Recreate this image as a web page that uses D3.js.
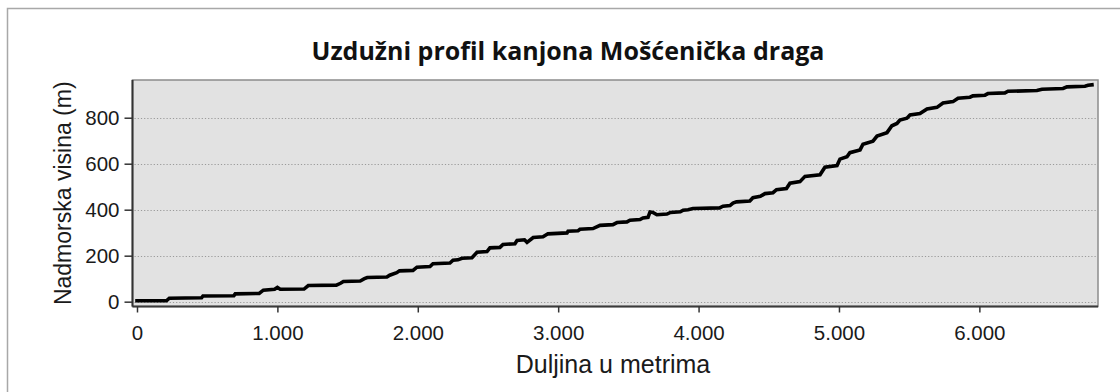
<!DOCTYPE html>
<html>
<head>
<meta charset="utf-8">
<script src="https://cdn.jsdelivr.net/npm/d3@7/dist/d3.min.js"></script>
<style>
  html, body { margin: 0; padding: 0; background: #ffffff; }
  svg { display: block; }
</style>
</head>
<body>
<svg id="chart" width="1120" height="392"></svg>
<script>
// Longitudinal profile of the Mošćenička draga canyon
const titleText = "Uzdužni profil kanjona Mošćenička draga";
const xTitle = "Duljina u metrima";
const yTitle = "Nadmorska visina (m)";

// distance along the canyon (m)
const distance = [
  0, 210, 230, 460, 470, 690, 700, 870, 900, 980, 1000, 1020, 1190, 1220, 1420,
  1450, 1470, 1590, 1620, 1640, 1780, 1800, 1850, 1870, 1966, 1994, 2087, 2108,
  2229, 2251, 2286, 2315, 2386, 2422, 2493, 2514, 2585, 2607, 2692, 2707, 2760,
  2778, 2822, 2892, 2927, 3063, 3070, 3141, 3155, 3248, 3298, 3390, 3419, 3490,
  3511, 3583, 3604, 3640, 3654, 3675, 3703, 3775, 3800, 3870, 3890, 3925, 3960,
  4150, 4174, 4224, 4245, 4270, 4365, 4387, 4440, 4473, 4530, 4555, 4626, 4651,
  4722, 4758, 4865, 4900, 4986, 5007, 5057, 5078, 5150, 5171, 5242, 5271, 5342,
  5377, 5413, 5434, 5484, 5506, 5577, 5627, 5698, 5741, 5812, 5848, 5933, 5954,
  6040, 6061, 6182, 6204, 6410, 6446, 6596, 6624, 6752, 6774, 6802
];

// elevation above sea level (m)
const elevation = [
  4, 4, 15, 17, 25, 26, 34, 36, 50, 54, 62, 54, 55, 70, 72,
  80, 88, 90, 100, 105, 107, 115, 126, 134, 136, 150, 153, 165,
  168, 180, 182, 189, 191, 215, 218, 234, 236, 249, 252, 266, 269,
  258, 279, 282, 295, 299, 306, 308, 315, 318, 332, 335, 344, 347,
  354, 357, 364, 367, 390, 388, 378, 381, 388, 391, 398, 400, 405,
  408, 415, 418, 429, 434, 438, 452, 458, 470, 474, 487, 492, 515,
  522, 545, 552, 585, 592, 620, 630, 648, 660, 685, 698, 720, 735,
  765, 775, 790, 798, 812, 818, 838, 845, 864, 870, 885, 889, 895,
  898, 905, 908, 915, 918, 924, 927, 934, 937, 941, 943
];

const xTicks = [0, 1000, 2000, 3000, 4000, 5000, 6000];
const yTicks = [0, 200, 400, 600, 800];

const svg = d3.select("#chart");
const W = 1120, H = 392;
const plot = { left: 132.5, right: 1098, top: 80, bottom: 306.5 };

// outer chart frame
svg.append("rect")
  .attr("x", 7.5).attr("y", 8.5)
  .attr("width", W + 20).attr("height", H + 20)
  .attr("fill", "#ffffff")
  .attr("stroke", "#a8a8a8").attr("stroke-width", 1.5);

const x = d3.scaleLinear().domain([-32, 6845]).range([plot.left, plot.right]);
const y = d3.scaleLinear().domain([-21, 964]).range([plot.bottom, plot.top]);

// plot background
svg.append("rect")
  .attr("x", plot.left).attr("y", plot.top)
  .attr("width", plot.right - plot.left).attr("height", plot.bottom - plot.top)
  .attr("fill", "#e2e2e2")
  .attr("stroke", "#8c8c8c").attr("stroke-width", 1.5);

// dotted horizontal gridlines
svg.append("g")
  .selectAll("line")
  .data(yTicks)
  .join("line")
  .attr("x1", plot.left + 2).attr("x2", plot.right - 2)
  .attr("y1", d => Math.round(y(d)) + 0.5).attr("y2", d => Math.round(y(d)) + 0.5)
  .attr("stroke", "#9a9a9a").attr("stroke-width", 1.2)
  .attr("stroke-dasharray", "1.2,2");

// profile line
const pts = distance.map((d, i) => [d, elevation[i]]);
svg.append("path")
  .datum(pts)
  .attr("d", d3.line().x(d => x(d[0])).y(d => y(d[1])))
  .attr("fill", "none")
  .attr("stroke", "#000000").attr("stroke-width", 3.6)
  .attr("stroke-linejoin", "miter").attr("stroke-linecap", "square");

const fontTick = "'Liberation Sans', Arial, sans-serif";

// x axis
const xAxis = svg.append("g")
  .attr("transform", `translate(0,${plot.bottom})`)
  .call(d3.axisBottom(x).tickValues(xTicks).tickSize(6).tickPadding(13)
    .tickFormat(d => d3.format(",")(d).replace(/,/g, ".")));
xAxis.select(".domain").attr("stroke", "#3a3a3a").attr("stroke-width", 2)
  .attr("d", `M${plot.left},0H${plot.right}`);
xAxis.selectAll(".tick line").attr("stroke", "#333").attr("stroke-width", 1.5);
xAxis.selectAll(".tick text")
  .attr("fill", "#1a1a1a").attr("font-family", fontTick).attr("font-size", 20.5);

// y axis
const yAxis = svg.append("g")
  .attr("transform", `translate(${plot.left},0)`)
  .call(d3.axisLeft(y).tickValues(yTicks).tickSize(8).tickPadding(5));
yAxis.select(".domain").attr("stroke", "#333").attr("stroke-width", 2)
  .attr("d", `M0,${plot.top}V${plot.bottom}`);
yAxis.selectAll(".tick line").attr("stroke", "#333").attr("stroke-width", 1.5);
yAxis.selectAll(".tick text")
  .attr("fill", "#1a1a1a").attr("font-family", fontTick).attr("font-size", 20.5);

// titles
svg.append("text")
  .attr("x", 568).attr("y", 60)
  .attr("text-anchor", "middle")
  .attr("font-family", "'Open Sans', 'Noto Sans', sans-serif")
  .attr("font-weight", "bold").attr("font-size", 25)
  .attr("fill", "#111")
  .text(titleText);

svg.append("text")
  .attr("x", 613).attr("y", 373)
  .attr("text-anchor", "middle")
  .attr("font-family", fontTick).attr("font-size", 25)
  .attr("fill", "#1a1a1a")
  .text(xTitle);

svg.append("text")
  .attr("transform", `translate(71,${(plot.top + plot.bottom) / 2}) rotate(-90)`)
  .attr("text-anchor", "middle")
  .attr("font-family", fontTick).attr("font-size", 23)
  .attr("fill", "#1a1a1a")
  .text(yTitle);
</script>
</body>
</html>
